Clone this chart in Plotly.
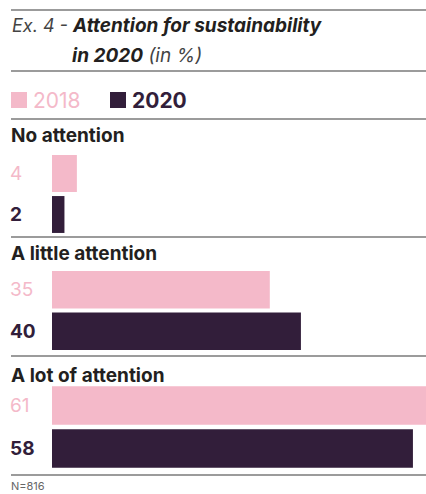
import plotly.graph_objects as go
from plotly.subplots import make_subplots

groups = ["No attention", "A little attention", "A lot of attention"]
years = ["2018", "2020"]
values_2018 = [4, 35, 61]
values_2020 = [2, 40, 58]
colors = {"2018": "#F4B9C9", "2020": "#321E3A"}
note = "N=816"

W, H = 426, 494
FONT = "Inter"
TEXT = "#231F20"

def py(px):
    return 1 - px / H

def pxx(px):
    return px / W

# vertical domains (pixels) for each group's bar pair
domains_px = [(153, 235), (269, 352), (384, 470)]

fig = make_subplots(rows=3, cols=1, shared_xaxes=False, vertical_spacing=0.0)

for i, g in enumerate(groups):
    for yr, vals in (("2018", values_2018), ("2020", values_2020)):
        fig.add_trace(
            go.Bar(
                x=[vals[i]], y=[yr], orientation="h",
                marker=dict(color=colors[yr], line=dict(width=0)),
                name=yr, showlegend=False,
                hoverinfo="skip",
            ),
            row=i + 1, col=1,
        )

layout_axes = {}
for i in range(3):
    top, bot = domains_px[i]
    sfx = "" if i == 0 else str(i + 1)
    layout_axes[f"xaxis{sfx}"] = dict(
        domain=[pxx(52), 1], range=[0, 60.1], visible=False, fixedrange=True)
    layout_axes[f"yaxis{sfx}"] = dict(
        type="category",
        domain=[py(bot), py(top)], categoryorder="array", categoryarray=years,
        range=[len(years) - 0.5, -0.5], autorange=False, visible=False, fixedrange=True)

fig.update_layout(**layout_axes)

annotations = []
shapes = []
# title
annotations.append(dict(
    x=pxx(10), y=py(26), xref="paper", yref="paper", xanchor="left", yanchor="middle",
    text='<i><span style="color:#444;font-size:18px">Ex. 4 - </span><b>Attention for sustainability</b></i>',
    showarrow=False, font=dict(family=FONT, size=19, color=TEXT)))
annotations.append(dict(
    x=pxx(70), y=py(56), xref="paper", yref="paper", xanchor="left", yanchor="middle",
    text='<i><b>in 2020</b> <span style="color:#444">(in %)</span></i>',
    showarrow=False, font=dict(family=FONT, size=19, color=TEXT)))

# legend (squares + labels)
legend_x = [11, 110]
for k, yr in enumerate(years):
    x0 = legend_x[k]
    shapes.append(dict(type="rect", xref="paper", yref="paper",
                       x0=pxx(x0), x1=pxx(x0 + 16), y0=py(108), y1=py(92),
                       fillcolor=colors[yr], line=dict(width=0)))
    annotations.append(dict(
        x=pxx(x0 + 20), y=py(100), xref="paper", yref="paper",
        xanchor="left", yanchor="middle",
        text=f"<b>{yr}</b>" if yr == "2020" else yr, showarrow=False,
        font=dict(family=FONT, size=21, color=colors[yr])))

# group headers and value labels
header_y = [136, 253, 375]
for i, g in enumerate(groups):
    annotations.append(dict(
        x=pxx(9), y=py(header_y[i]), xref="paper", yref="paper",
        xanchor="left", yanchor="middle", text=f"<b>{g}</b>", showarrow=False,
        font=dict(family=FONT, size=19, color=TEXT)))
    sfx = "" if i == 0 else str(i + 1)
    for k, (yr, vals) in enumerate((("2018", values_2018), ("2020", values_2020))):
        annotations.append(dict(
            x=pxx(8), y=k, xref="paper", yref=f"y{sfx}",
            xanchor="left", yanchor="middle",
            text=f"<b>{vals[i]}</b>" if yr == "2020" else f"{vals[i]}",
            showarrow=False,
            font=dict(family=FONT, size=19, color=colors[yr])))

annotations.append(dict(
    x=pxx(9), y=py(486), xref="paper", yref="paper", xanchor="left", yanchor="middle",
    text=note, showarrow=False, font=dict(family=FONT, size=11, color="#666")))

for ypx in [10, 71, 119, 237, 356, 475]:
    shapes.append(dict(type="line", xref="paper", yref="paper",
                       x0=pxx(11), x1=1, y0=py(ypx), y1=py(ypx),
                       line=dict(color="#7a7a7a", width=1.5)))

fig.update_layout(
    width=W, height=H,
    margin=dict(l=0, r=0, t=0, b=0),
    paper_bgcolor="white", plot_bgcolor="white",
    barmode="overlay", bargap=0.1,
    annotations=annotations, shapes=shapes,
    showlegend=False,
)

fig.write_html(
    "out.html",
    config={"displayModeBar": False, "staticPlot": True},
    post_script="document.body.style.margin='0';document.body.style.overflow='hidden';",
)
